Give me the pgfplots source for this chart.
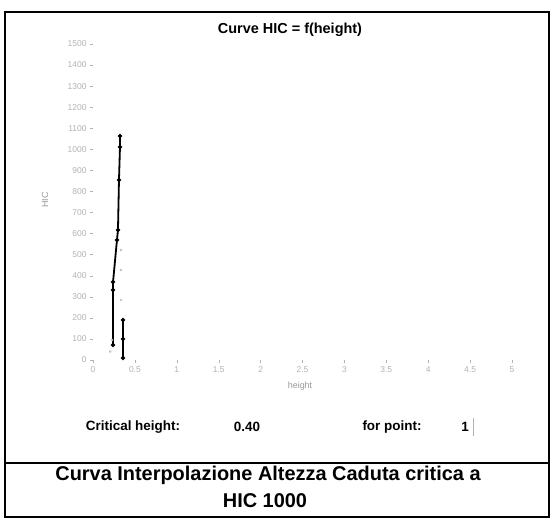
\documentclass[border=0pt]{standalone}
\usepackage{pgfplots}
\pgfplotsset{compat=1.18}
\usepackage{fontspec}
\setmainfont{Liberation Sans}
\begin{document}
\begin{tikzpicture}[x=1bp,y=1bp]
\useasboundingbox (0,0) rectangle (552,519);
\draw[line width=1.3bp] (5,2) rectangle (549,507);
\draw[line width=1.3bp] (5,56) -- (549,56);
\begin{axis}[
  at={(93bp,159bp)}, anchor=south west,
  scale only axis, width=419bp, height=316bp,
  xmin=0, xmax=5, ymin=0, ymax=1500,
  xtick={0,0.5,...,5}, ytick={0,100,...,1500},
  xtick pos=left, ytick pos=left,
  axis line style={draw=none},
  tick style={gray!60, thin},
  tick align=outside,
  major tick length=3bp,
  ticklabel style={font=\fontsize{8.5}{9}\selectfont, text=gray!60},
  /pgf/number format/assume math mode=true,
  /pgf/number format/set thousands separator={},
  unbounded coords=jump,
  clip=false,
]
\addplot[black, line width=1.8bp, mark=*, mark size=1.1bp] coordinates {
  (0.322,1063) (0.322,1011) (0.31,854) (0.298,617) (0.286,570)
  (0.239,370) (0.239,332) (0.239,71)
  (0.30,nan)
  (0.358,190) (0.358,100) (0.358,9)
};
\addplot[only marks, gray!50, mark=*, mark size=1bp] coordinates {
  (0.334,522) (0.334,427) (0.334,285) (0.227,95) (0.205,40)
};
\end{axis}
\node[font=\bfseries\fontsize{14.5}{16}\selectfont] at (290,489) {Curve HIC = f(height)};
\node[font=\fontsize{9}{10}\selectfont, text=gray!80] at (300,133) {height};
\node[font=\fontsize{9}{10}\selectfont, text=gray!80, rotate=90] at (45,319) {HIC};
\node[font=\bfseries\fontsize{13.5}{15}\selectfont] at (133,92) {Critical height:};
\node[font=\bfseries\fontsize{13.5}{15}\selectfont] at (247,92) {0.40};
\node[font=\bfseries\fontsize{13.5}{15}\selectfont] at (392,92) {for point:};
\node[font=\bfseries\fontsize{13.5}{15}\selectfont] at (465,92) {1};
\draw[gray!60] (473,83) -- (473,101);
\node[font=\bfseries\fontsize{20}{22}\selectfont] at (268,44) {Curva Interpolazione Altezza Caduta critica a};
\node[font=\bfseries\fontsize{20}{22}\selectfont] at (265,18) {HIC 1000};
\end{tikzpicture}
\end{document}
